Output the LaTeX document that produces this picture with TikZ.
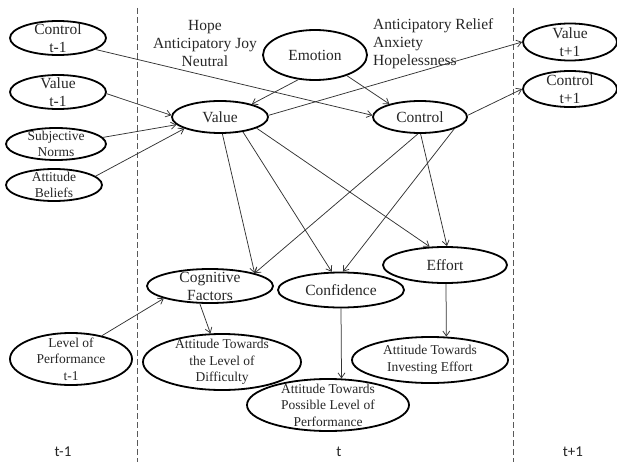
\documentclass[tikz,border=0pt]{standalone}
\usepackage{fontspec}
\setmainfont{Liberation Serif}
\newfontfamily\calib{Carlito}
\usetikzlibrary{arrows.meta,shapes.geometric}
\definecolor{txt}{HTML}{262626}
\begin{document}
\begin{tikzpicture}[x=1pt,y=-1pt,
  el/.style={draw=black, line width=1.8pt, ellipse, inner sep=0pt},
  big/.style={font=\fontsize{15.5}{18}\selectfont, align=center, text=txt, inner sep=0pt},
  sml/.style={font=\fontsize{13.5}{16.5}\selectfont, align=center, text=txt, inner sep=0pt},
  arr/.style={draw=black!80, line width=0.75pt, -{Straight Barb[length=5pt,width=7pt]}},
  dashline/.style={draw=black!65, line width=0.9pt, dash pattern=on 6pt off 3pt},
  timelbl/.style={font=\calib\fontsize{15}{18}\selectfont, text=txt, inner sep=0pt}
]
\useasboundingbox (0,0) rectangle (617,462);

% dashed separators
\draw[dashline] (137,8) -- (137,462);
\draw[dashline] (513,8) -- (513,462);

% left column
\node[el, minimum width=96pt, minimum height=34pt, label={[big]center:{Control\\t-1}}] (c1) at (58,38) {};
\node[el, minimum width=96pt, minimum height=34pt, label={[big]center:{Value\\t-1}}] (v1) at (58,92) {};
\node[el, minimum width=100pt, minimum height=32pt, label={[sml]center:{Subjective\\Norms}}] (sn) at (56,144) {};
\node[el, minimum width=96pt, minimum height=32pt, label={[sml]center:{Attitude\\Beliefs}}] (ab) at (54,185) {};
\node[el, minimum width=122pt, minimum height=52pt, label={[sml]center:{Level of\\Performance\\t-1}}] (lp) at (71,359) {};

% middle column
\node[el, minimum width=104pt, minimum height=50pt, label={[big]center:{Emotion}}] (emo) at (315,55) {};
\node[big, anchor=east] (posemo) at (257,44) {Hope\\Anticipatory Joy\\Neutral};
\node[big, anchor=west, align=left] (negemo) at (373,44) {Anticipatory Relief\\Anxiety\\Hopelessness};
\node[el, minimum width=96pt, minimum height=32pt, label={[big]center:{Value}}] (val) at (220,117) {};
\node[el, minimum width=94pt, minimum height=32pt, label={[big]center:{Control}}] (ctl) at (420,117) {};
\node[el, minimum width=126pt, minimum height=34pt, label={[big]center:{Cognitive\\Factors}}] (cog) at (210,286) {};
\node[el, minimum width=126pt, minimum height=35pt, label={[big]center:{Confidence}}] (conf) at (341,290) {};
\node[el, minimum width=124pt, minimum height=36pt, label={[big]center:{Effort}}] (eff) at (445,265) {};
\node[el, minimum width=158pt, minimum height=56pt, label={[sml]center:{Attitude Towards\\the Level of\\Difficulty}}] (atd) at (222,362) {};
\node[el, minimum width=162pt, minimum height=52pt, label={[sml]center:{Attitude Towards\\Possible Level of\\Performance}}] (atp) at (328,405) {};
\node[el, minimum width=156pt, minimum height=46pt, label={[sml]center:{Attitude Towards\\Investing Effort}}] (ati) at (430,360) {};

% right column
\node[el, minimum width=94pt, minimum height=37pt, label={[big]center:{Value\\t+1}}] (v2) at (570,42) {};
\node[el, minimum width=94pt, minimum height=36pt, label={[big]center:{Control\\t+1}}] (c2) at (570,89) {};

% time labels
\node[timelbl] (tm1) at (63,452) {t-1};
\node[timelbl] (tt) at (339,452) {t};
\node[timelbl] (tp1) at (573,452) {t+1};

% connectors
\draw[arr] (c1.-17.5) -- (ctl.178);
\draw[arr] (v1.-2) -- (val.178);
\draw[arr] (sn.8) -- (val.190);
\draw[arr] (ab.12) -- (val.198);
\draw[arr] (emo.236) -- (val.22);
\draw[arr] (emo.-33) -- (ctl.157);
\draw[arr] (val.2) -- (v2.180);
\draw[arr] (ctl.2) -- (c2.180);
\draw[arr] (val.-82) -- (cog.16);
\draw[arr] (val.-33) -- (conf.117);
\draw[arr] (val.-17) -- (eff.130);
\draw[arr] (ctl.-97) -- (cog.16);
\draw[arr] (ctl.-19) -- (conf.84);
\draw[arr] (ctl.-88) -- (eff.84);
\draw[arr] (cog.240) -- (atd.112);
\draw[arr] (conf.-90) -- (atp.63);
\draw[arr] (eff.-87) -- (ati.55);
\draw[arr] (lp.37) -- (cog.195);
\end{tikzpicture}
\end{document}
